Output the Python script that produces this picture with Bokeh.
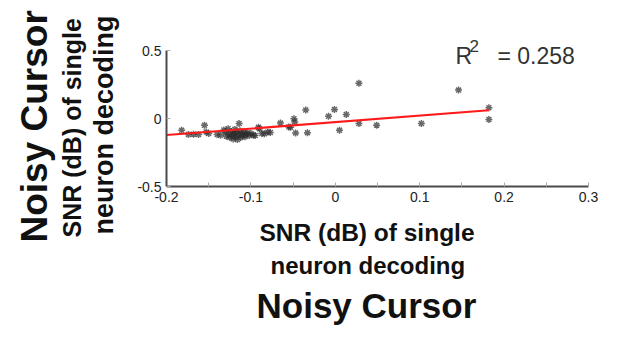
import math
from bokeh.plotting import figure
from bokeh.models import FixedTicker, Label, Range1d, ColumnDataSource, Title
from bokeh.embed import file_html
from bokeh.resources import INLINE

# ---- data ----
snr_x = [-0.182, -0.174, -0.168, -0.162, -0.155, -0.153, -0.150, -0.140, -0.136,
         -0.132, -0.130, -0.129, -0.127, -0.126, -0.125, -0.123, -0.122, -0.121,
         -0.120, -0.119, -0.118, -0.117, -0.116, -0.115, -0.114, -0.113, -0.112,
         -0.111, -0.110, -0.108, -0.107, -0.106, -0.104, -0.102, -0.100,
         -0.097, -0.095, -0.091, -0.090, -0.087, -0.084, -0.080, -0.077, -0.065,
         -0.055, -0.053, -0.049, -0.048, -0.047, -0.035, -0.033, -0.008, -0.001,
         0.005, 0.013, 0.028, 0.028, 0.049, 0.102, 0.146, 0.182, 0.182]
snr_y = [-0.086, -0.118, -0.115, -0.118, -0.050, -0.099, -0.110, -0.118, -0.123,
         -0.085, -0.100, -0.130, -0.075, -0.115, -0.140, -0.095, -0.125, -0.150,
         -0.110, -0.080, -0.135, -0.100, -0.155, -0.120, -0.037, -0.090, -0.140,
         -0.110, -0.125, -0.100, -0.135, -0.115, -0.105, -0.125, -0.110,
         -0.123, -0.125, -0.064, -0.075, -0.110, -0.113, -0.100, -0.103, -0.034,
         -0.062, -0.064, -0.002, -0.025, -0.106, 0.062, -0.104, 0.017, 0.067,
         -0.086, 0.030, 0.259, -0.037, -0.049, -0.037, 0.209, 0.079, -0.007]
fit_x = [-0.200, 0.182]
fit_y = [-0.122, 0.060]
x_ticks = [-0.2, -0.1, 0.0, 0.1, 0.2, 0.3]
x_minor = [-0.15, -0.05, 0.05, 0.15, 0.25]
y_ticks = [-0.5, 0.0, 0.5]
r2_text = "0.258"
axis_title = ["SNR (dB) of single", "neuron decoding"]
panel_title = "Noisy Cursor"

# ---- layout (pixels) ----
W, H = 621, 337
FL, FR, FB = 166, 588, 186          # frame left / right / bottom
AX_TOP = 50                          # pixel row of y = 0.5
XMIN, XMAX, YMIN, YMAX = -0.2, 0.3, -0.5, 0.5
PX_PER_X = (FR - FL) / (XMAX - XMIN)
PX_PER_Y = (FB - AX_TOP) / (YMAX - YMIN)
Y_TOP = YMIN + FB / PX_PER_Y         # frame reaches the top of the canvas


def dx(px):
    return XMIN + (px - FL) / PX_PER_X


def dy(py):
    return YMAX - (py - AX_TOP) / PX_PER_Y


p = figure(width=W, height=H, output_backend="svg", toolbar_location=None,
           x_range=Range1d(XMIN, XMAX), y_range=Range1d(YMIN, Y_TOP))
p.min_border_left = FL
p.min_border_right = W - FR
p.min_border_top = 0
p.min_border_bottom = H - FB
p.outline_line_color = None
p.grid.visible = False
p.background_fill_color = "white"
p.border_fill_color = "white"

FONT = "Liberation Sans"

p.xaxis.ticker = FixedTicker(ticks=x_ticks, minor_ticks=x_minor)
p.yaxis.ticker = FixedTicker(ticks=y_ticks)
p.xaxis.bounds = (XMIN, XMAX)
p.yaxis.bounds = (YMIN, YMAX)
for ax in (p.xaxis, p.yaxis):
    ax.axis_line_color = "#4a4a4a"
    ax.axis_line_width = 2
    ax.major_tick_in = 4
    ax.major_tick_out = 0
    ax.minor_tick_in = 4
    ax.minor_tick_out = 0
    ax.major_tick_line_color = "#aaaaaa"
    ax.minor_tick_line_color = "#aaaaaa"
    ax.major_label_text_font = FONT
    ax.major_label_text_font_size = "14px"
    ax.major_label_text_color = "#222222"
    ax.major_label_standoff = 5
p.yaxis.minor_tick_line_color = None
p.xaxis.major_label_overrides = {-0.2: "-0.2", -0.1: "-0.1", 0.0: "0", 0.1: "0.1",
                                 0.2: "0.2", 0.3: "0.3"}
p.yaxis.major_label_overrides = {-0.5: "-0.5", 0.0: "0", 0.5: "0.5"}

src = ColumnDataSource(dict(x=snr_x, y=snr_y))
p.scatter("x", "y", source=src, marker="asterisk", size=7, line_color="#2a2a2a",
          line_width=1.5, line_alpha=0.7)
p.line(fit_x, fit_y, line_color="#ff1a1a", line_width=2)


def lab(text, px, py, size, align="left"):
    p.add_layout(Label(x=dx(px), y=dy(py), text=text, text_font=FONT,
                       text_font_size=size, text_align=align,
                       text_baseline="alphabetic", text_color="#333333"))


# R^2 annotation (inside the frame)
lab("R", 455, 55, "23px")
lab("2", 469, 45, "17px")
lab("= " + r2_text, 497, 55, "23px")


def spacer(side, n):
    p.add_layout(Title(text=" ", text_font_size="1px", standoff=n,
                       text_color="white"), side)


def title(side, text, size, offset, standoff, valign):
    p.add_layout(Title(text=text, align="left", offset=offset, standoff=standoff,
                       vertical_align=valign, text_font=FONT,
                       text_font_size=size, text_font_style="bold",
                       text_color="#111111"), side)


# bottom titles
spacer("below", 11)
title("below", axis_title[0], "24.5px", 93, 0, "top")
title("below", axis_title[1], "24px", 104, 8, "top")
title("below", panel_title, "35px", 90, 3, "top")

# left titles (rotated)
spacer("left", 13)
title("left", axis_title[1], "27px", -48, 0, "bottom")
title("left", axis_title[0], "25px", -51, 2, "bottom")
title("left", panel_title, "37px", -56, 0, "bottom")

open("out.html", "w").write(file_html(p, INLINE))
